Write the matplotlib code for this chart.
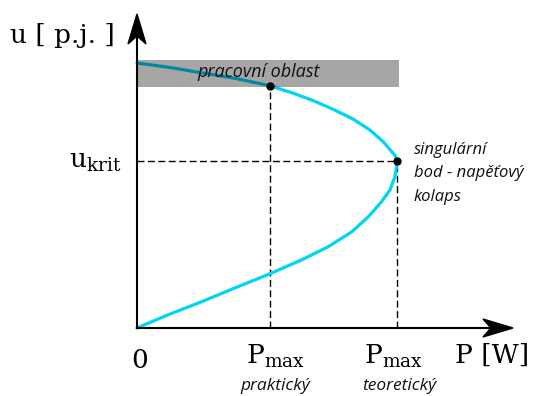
import numpy as np
import matplotlib.pyplot as plt
from matplotlib.patches import Polygon, Rectangle

plt.rcParams['mathtext.fontset'] = 'custom'
plt.rcParams['mathtext.rm'] = 'DejaVu Serif'

# PV (nose) curve, P normalised to theoretical max, u normalised to no-load voltage
p_curve = [0.0, 0.120, 0.248, 0.376, 0.512, 0.633, 0.736, 0.826, 0.890, 0.941,
           0.973, 0.992, 0.997, 1.000, 0.993, 0.980, 0.947, 0.896, 0.832, 0.755,
           0.678, 0.601, 0.512, 0.377, 0.230, 0.127, 0.0]
u_curve = [0.0, 0.050, 0.099, 0.151, 0.205, 0.257, 0.307, 0.363, 0.420, 0.477,
           0.521, 0.571, 0.602, 0.630, 0.651, 0.665, 0.703, 0.747, 0.788, 0.825,
           0.858, 0.886, 0.914, 0.942, 0.966, 0.983, 1.0]

p_prakt, u_prakt = 0.512, 0.914   # practical operating limit
p_krit, u_krit = 1.000, 0.630     # voltage collapse point
band_lo, band_hi, band_right = 0.911, 1.011, 1.008

x_tip, y_tip = 1.446, 1.185

fig = plt.figure(figsize=(5.35, 3.96), dpi=100)
ax = fig.add_axes([0, 0, 1, 1])
ax.set_xlim(-137 / 260, (535 - 137) / 260)
ax.set_ylim(-68 / 265, 328 / 265)
ax.axis('off')

px, py = 1 / 260, 1 / 265   # data units per pixel

# axes with stealth arrowheads
ax.plot([0, 0], [0, y_tip - 20 * py], color='black', lw=1.5, zorder=4)
ax.plot([0, x_tip - 20 * px], [0, 0], color='black', lw=1.5, zorder=4)
ax.add_patch(Polygon([(0, y_tip), (-9 * px, y_tip - 30 * py), (0, y_tip - 22 * py),
                      (9 * px, y_tip - 30 * py)], closed=True, color='black', zorder=5))
ax.add_patch(Polygon([(x_tip, 0), (x_tip - 30 * px, 9 * py), (x_tip - 22 * px, 0),
                      (x_tip - 30 * px, -9 * py)], closed=True, color='black', zorder=5))

# curve
ax.plot(p_curve, u_curve, color='#00d4f7', lw=2.3, solid_joinstyle='round',
        solid_capstyle='round', zorder=2)

# dashed guide lines
dash = dict(color='black', lw=1.0, dashes=(5, 2.5), zorder=1)
ax.plot([0, p_krit], [u_krit, u_krit], **dash)
ax.plot([p_prakt, p_prakt], [0, u_prakt], **dash)
ax.plot([p_krit, p_krit], [0, u_krit], **dash)

# operating region band
ax.add_patch(Rectangle((0, band_lo), band_right, band_hi - band_lo,
                       facecolor='black', alpha=0.35, lw=0, zorder=3))

ax.plot([p_prakt, p_krit], [u_prakt, u_krit], 'o', color='black', ms=5, zorder=6)

serif = dict(family='DejaVu Serif', color='black')
ital = dict(family='Open Sans', style='italic', color='#111111')

ax.text(-127 * px, (328 - 43) * py, 'u [ p.j. ]', fontsize=19, ha='left', va='baseline', **serif)
ax.text(-16 * px, (328 - 168) * py, r'u$_{\mathrm{krit}}$', fontsize=19, ha='right', va='baseline', **serif)
ax.text(3 * px, (328 - 368) * py, '0', fontsize=19, ha='center', va='baseline', **serif)
ax.text(p_prakt + 5 * px, (328 - 363) * py, r'P$_{\mathrm{max}}$', fontsize=19, ha='center', va='baseline', **serif)
ax.text(p_krit - 4 * px, (328 - 363) * py, r'P$_{\mathrm{max}}$', fontsize=19, ha='center', va='baseline', **serif)
ax.text(318 * px, (328 - 363) * py, 'P [W]', fontsize=19, ha='left', va='baseline', **serif)

ax.text(p_prakt + 5 * px, (328 - 386) * py, 'praktický', fontsize=12.5, ha='center', va='center', **ital)
ax.text(p_krit + 2 * px, (328 - 386) * py, 'teoretický', fontsize=12.5, ha='center', va='center', **ital)
ax.text(60 * px, (328 - 72) * py, 'pracovní oblast', fontsize=13, ha='left', va='center', zorder=7, **ital)
ax.text(p_krit + 17 * px, (328 - 150) * py, 'singulární', fontsize=12, ha='left', va='center', **ital)
ax.text(p_krit + 17 * px, (328 - 173) * py, 'bod - napěťový', fontsize=12, ha='left', va='center', **ital)
ax.text(p_krit + 17 * px, (328 - 197) * py, 'kolaps', fontsize=12, ha='left', va='center', **ital)

fig.savefig('out.png', dpi=100)
